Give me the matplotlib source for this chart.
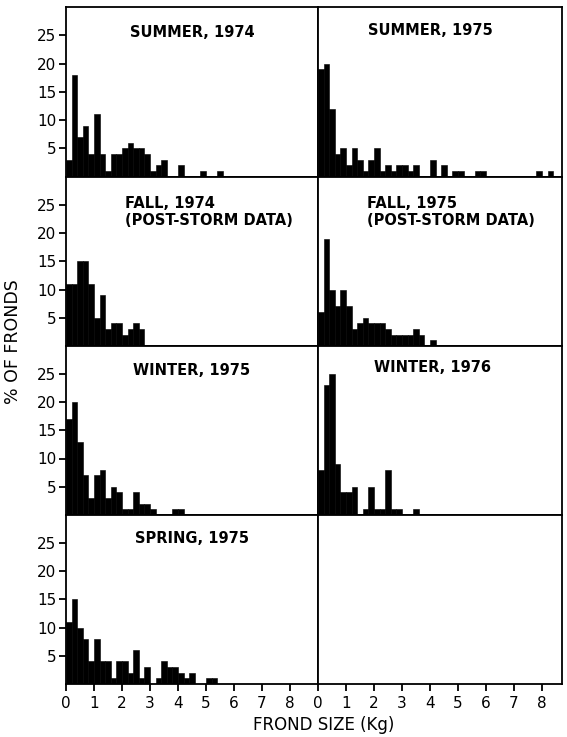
"""Frond size distributions by season, drawn as a 4x2 grid of histograms."""

import matplotlib

matplotlib.use("Agg")
import matplotlib.pyplot as plt  # noqa: E402
import numpy as np  # noqa: E402

# Percent of fronds in each 0.2 kg size class, starting at 0 kg.
BIN_WIDTH = 0.2

summer_1974 = [3, 18, 7, 9, 4, 11, 4, 1, 4, 4, 5, 6, 5, 5, 4, 1, 2, 3, 0, 0,
               2, 0, 0, 0, 1, 0, 0, 1]
summer_1975 = [19, 20, 12, 4, 5, 2, 5, 3, 1, 3, 5, 1, 2, 1, 2, 2, 1, 2, 0, 0,
               3, 0, 2, 0, 1, 1, 0, 0, 1, 1, 0, 0, 0, 0, 0, 0, 0, 0, 0, 1,
               0, 1]
fall_1974 = [11, 11, 15, 15, 11, 5, 9, 3, 4, 4, 2, 3, 4, 3]
fall_1975 = [6, 19, 10, 7, 10, 7, 3, 4, 5, 4, 4, 4, 3, 2, 2, 2, 2, 3, 2, 0, 1]
winter_1975 = [17, 20, 13, 7, 3, 7, 8, 3, 5, 4, 1, 1, 4, 2, 2, 1, 0, 0, 0, 1, 1]
winter_1976 = [8, 23, 25, 9, 4, 4, 5, 0, 1, 5, 1, 1, 8, 1, 1, 0, 0, 1]
spring_1975 = [11, 15, 10, 8, 4, 8, 4, 4, 1, 4, 4, 2, 6, 1, 3, 0, 1, 4, 3, 3,
               2, 1, 2, 0, 0, 1, 1]

titles = [
    ["SUMMER, 1974", "SUMMER, 1975"],
    ["FALL, 1974\n(POST-STORM DATA)", "FALL, 1975\n(POST-STORM DATA)"],
    ["WINTER, 1975", "WINTER, 1976"],
    ["SPRING, 1975", None],
]
series = [
    [summer_1974, summer_1975],
    [fall_1974, fall_1975],
    [winter_1975, winter_1976],
    [spring_1975, None],
]
y_ticks = [5, 10, 15, 20, 25]
x_ticks = [0, 1, 2, 3, 4, 5, 6, 7, 8]

W, H = 567, 737
plt.rcParams["font.family"] = "DejaVu Sans"

fig = plt.figure(figsize=(W / 100, H / 100), dpi=100)

# panel geometry in pixels
col_left = [66, 318]
col_width = [252, 244]
px_per_kg = 28.0
row_top = [7, 176.5, 345.5, 514.5]
row_h = 169.5

# title placement (axes fraction) per panel
title_pos = [
    [(0.5, 0.85, "center"), (0.46, 0.86, "center")],
    [(0.236, 0.79, "left"), (0.2, 0.79, "left")],
    [(0.5, 0.855, "center"), (0.47, 0.87, "center")],
    [(0.5, 0.86, "center"), None],
]

for r in range(4):
    for c in range(2):
        left = col_left[c] / W
        bottom = 1 - (row_top[r] + row_h) / H
        ax = fig.add_axes([left, bottom, col_width[c] / W, row_h / H])
        ax.set_xlim(0, col_width[c] / px_per_kg)
        ax.set_ylim(0, 30)
        for sp in ax.spines.values():
            sp.set_linewidth(1.3)
            sp.set_color("black")

        vals = series[r][c]
        if vals is not None:
            edges = np.arange(len(vals)) * BIN_WIDTH
            ax.bar(edges, vals, width=BIN_WIDTH, align="edge",
                   color="black", edgecolor="black", linewidth=0.4)

        if titles[r][c] is not None:
            tx, ty, ha = title_pos[r][c]
            ax.text(tx, ty, titles[r][c], transform=ax.transAxes,
                    ha=ha, va="center", fontsize=10.5, fontweight="bold",
                    linespacing=1.1)

        ax.tick_params(direction="out", length=5, width=1.3,
                       labelsize=11, pad=2)
        if c == 0:
            ax.set_yticks(y_ticks)
        else:
            ax.set_yticks([])
        if r == 3:
            ax.set_xticks(x_ticks)
            ax.tick_params(axis="x", pad=4)
        else:
            ax.set_xticks([])

fig.text(324 / W, 1 - 725 / H, "FROND SIZE (Kg)", ha="center", va="center",
         fontsize=12)
fig.text(13 / W, 1 - 342 / H, "% OF FRONDS", ha="center", va="center",
         rotation=90, fontsize=12.5)

fig.savefig("out.png", dpi=100)
